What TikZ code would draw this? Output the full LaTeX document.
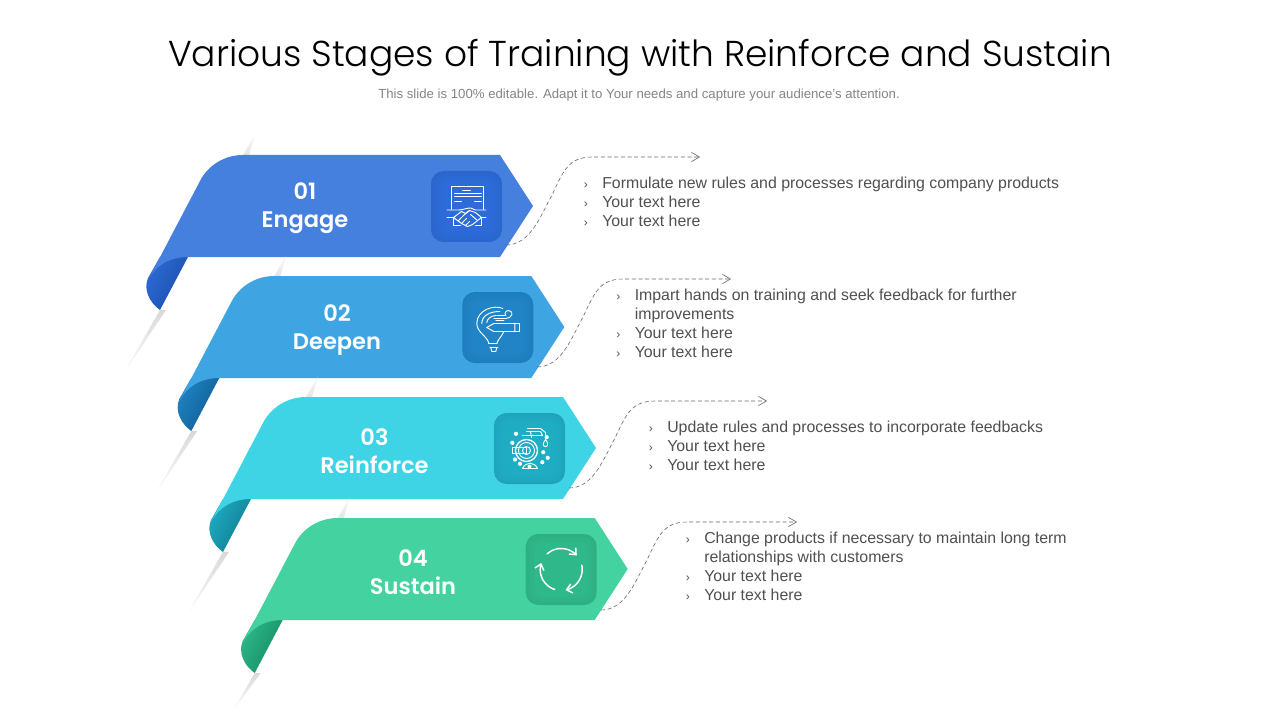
\documentclass[tikz,border=0pt]{standalone}
\usepackage{fontspec}
\setmainfont{Liberation Sans}
\newfontfamily\titlefont{Poppins Light}
\newfontfamily\bandfont{Poppins SemiBold}
\usetikzlibrary{arrows.meta,calc,fadings}
\definecolor{cA}{HTML}{4580DE}\definecolor{cAd}{HTML}{2C6BD8}\definecolor{cAe}{HTML}{1B4FA8}
\definecolor{cB}{HTML}{3FA5E2}\definecolor{cBd}{HTML}{2084C6}\definecolor{cBe}{HTML}{0F5C8F}
\definecolor{cC}{HTML}{3ED4E6}\definecolor{cCd}{HTML}{1FADC4}\definecolor{cCe}{HTML}{0F7A8F}
\definecolor{cD}{HTML}{43D2A0}\definecolor{cDd}{HTML}{2FB98A}\definecolor{cDe}{HTML}{148A62}
\definecolor{txt}{HTML}{505050}
\tikzset{
  x=0.75pt,y=-0.75pt,
  conn/.style={densely dashed,line width=0.45pt,draw=black!60,-{Straight Barb[length=6pt,width=7pt,line width=0.45pt]}},
  itxt/.style={anchor=base west,inner sep=0pt,font=\fontsize{11.9pt}{14pt}\selectfont,text=txt},
  bul/.style={anchor=base west,inner sep=0pt,font=\fontsize{9pt}{11pt}\selectfont,text=txt},
  bandtxt/.style={align=center,text=white,inner sep=0pt,font=\bandfont\fontsize{16.9pt}{21pt}\selectfont},
  ic/.style={draw=white,line width=0.7pt,line join=round,line cap=round},
}
% #1 x-offset, #2 y-offset, #3 band, #4 box colour, #5 edge colour, #6 name, #7 streak length
\newcommand{\bandshape}[7]{%
  \begin{scope}[shift={(#1,#2)}]
    \fill[black!15,path fading=south] (160,310) -- (166,310) -- ($(160,310)!#7!(122,376)$) -- cycle;
    \fill[black!10,path fading=north] (243,155) -- (249,155) -- (256,132) -- cycle;
    \path[left color=#4,middle color=#4,right color=#5,shading angle=62] (188,257) -- (160,310) .. controls (150,303) and (143,290) .. (148,278) -- (160,257) -- cycle;
    \fill[#3] (500,155) -- (533,206) -- (500,257) -- (188,257) .. controls (170,257) and (156,265) .. (148,280) -- (200,181) .. controls (208,165) and (225,155) .. (243,155) -- cycle;
    \foreach \i/\m in {0/95,1/95.5,2/96,3/96.5,4/97,5/97.5,6/98,7/98.5,8/99,9/99.3,10/99.6,11/100}{
      \fill[#4!\m!black,rounded corners={9.5pt-0.4pt*\i}] ({431+\i},{171+\i}) rectangle ({502-\i},{242-\i});
    }
    \coordinate (#6i) at (466.5,206.5);
  \end{scope}}
\newcommand{\connect}[2]{%
  \coordinate (k#1) at ($(#1)+(86,0)$);
  \draw[conn] (#1) .. controls ($(#1)+(24,0)$) and ($(#1)+(34,-28)$) .. ($(#1)+(46,-50)$) .. controls ($(#1)+(57,-73)$) and ($(k#1 |- #2)+(-24,0)$) .. (k#1 |- #2) -- (#2);}
\begin{document}
\begin{tikzpicture}
\useasboundingbox (0,0) rectangle (1280,720);
\fill[white] (0,0) rectangle (1280,720);
\node[inner sep=0pt,font=\titlefont\fontsize{27pt}{34pt}\selectfont] (title) at (640,57.5) {Various Stages of Training with Reinforce and Sustain};
\node[inner sep=0pt,font=\fontsize{9.9pt}{11pt}\selectfont,text=black!48] (sub) at (639,95) {This slide is 100\% editable. Adapt it to Your needs and capture your audience’s attention.};

\bandshape{0}{0}{cA}{cAd}{cAe}{a}{1}
\bandshape{31.3}{121}{cB}{cBd}{cBe}{b}{1}
\bandshape{63}{242}{cC}{cCd}{cCe}{c}{1}
\bandshape{94.7}{363}{cD}{cDd}{cDe}{d}{.58}

\node[bandtxt] (t1) at (305,208.5) {01\\Engage};
\node[bandtxt] (t2) at (337,330.5) {02\\Deepen};
\node[bandtxt] (t3) at (374.5,451) {03\\Reinforce};
\node[bandtxt] (t4) at (413,572.5) {04\\Sustain};

% connectors
\coordinate (as) at (506,245);
\coordinate (bs) at (537,367);
\coordinate (cs) at (569,488);
\coordinate (ds) at (601,610);
\coordinate (ae) at (700,157);
\coordinate (be) at (731,279);
\coordinate (ce) at (767,401);
\coordinate (de) at (797,522);
\connect{as}{ae}
\connect{bs}{be}
\connect{cs}{ce}
\connect{ds}{de}

% texts
\newcommand{\bl}[3]{\node[bul] at (#1,#2) {›}; \node[itxt] at ($(#1,#2)+(18.5,0)$) {#3};}
\bl{583.5}{188.5}{Formulate new rules and processes regarding company products}
\bl{583.5}{207.5}{Your text here}
\bl{583.5}{226.5}{Your text here}
\bl{616}{300.5}{Impart hands on training and seek feedback for further}
\node[itxt] at (634.5,319.5) {improvements};
\bl{616}{338.5}{Your text here}
\bl{616}{357.5}{Your text here}
\bl{648.5}{432.5}{Update rules and processes to incorporate feedbacks}
\bl{648.5}{451.5}{Your text here}
\bl{648.5}{470.5}{Your text here}
\bl{685.5}{543.5}{Change products if necessary to maintain long term}
\node[itxt] at (704,562.5) {relationships with customers};
\bl{685.5}{581.5}{Your text here}
\bl{685.5}{600.5}{Your text here}

% icon 1: agreement and handshake
\begin{scope}[shift={(ai)}]
  \draw[ic] (-15,3) -- (-15,-20.5) -- (17,-20.5) -- (17,3);
  \draw[ic] (-4,-16.5) -- (4,-16.5);
  \draw[ic] (-12,-13) -- (15,-13) (-12,-10) -- (15,-10);
  \draw[ic] (-12,-5) -- (-5,-5) (8,-5) -- (15,-5);
  \draw[ic] (-19.5,3.5) -- (-8,3.5) .. controls (-3,3.5) and (-1,1.5) .. (4,1.5) -- (9,3.5) -- (19.5,3.5);
  \draw[ic] (-19.5,11) -- (-13,11) -- (-13,19) -- (-6,19) (19.5,11) -- (15,11) -- (15,19) -- (9,19);
  \draw[ic] (-13,11) -- (-5,5) -- (-1,7) -- (3,4) -- (9,6) -- (15,11) -- (6,18) -- (1,20) -- (-5,17) -- cycle;
  \draw[ic] (-8,14) -- (-3,9) (-5,17) -- (0,12) (-1,19) -- (3,15) (3,4) -- (-3,9) (4,8) -- (11,14);
\end{scope}
% icon 2: bulb with pencil
\begin{scope}[shift={(bi)}]
  \draw[ic] (5,-19) .. controls (-3,-23) and (-21,-18) .. (-21,-4) .. controls (-21,5) and (-10,9) .. (-9,16);
  \draw[ic] (-16,-4) .. controls (-16,-12) and (-8,-16) .. (2,-16);
  \draw[ic] (-11,-5) .. controls (-11,-8) and (-7,-12) .. (-2,-12);
  \draw[ic] (-11,0) -- (-4,-4) -- (17,-4) -- (17,4) -- (-4,4) -- cycle;
  \draw[ic] (17,-4) -- (22,-4) -- (22,4) -- (17,4);
  \draw[ic] (-4,-9) -- (8,-9) (-2,-7) -- (6,-7) (-1,-12) -- (7,-12);
  \draw[ic] (8,-9) .. controls (14,-9) and (17,-16) .. (11,-17) .. controls (8,-17) and (6,-14) .. (8,-12);
  \draw[ic] (6,4) .. controls (4,9) and (0,12) .. (-1,16);
  \draw[ic] (-9,16) -- (-1,16) (-8,20) -- (0,20) (-7,20) -- (-6,24) -- (-2,24) -- (-1,20);
\end{scope}
% icon 3: target and gears
\begin{scope}[shift={(ci)}]
  \draw[ic] (-3,2) circle[radius=4];
  \draw[ic] (-3,2) circle[radius=8];
  \draw[ic,line width=1pt] (-3,2) circle[radius=11];
  \draw[ic] (-17,-1) -- (-3,-1) -- (-3,5) -- (-17,5) -- cycle;
  \draw[ic] (-7,-13) -- (13,-13) (-3,-17) -- (11,-17) -- (13,-13) (1,-17) -- (2,-11) (-2,-20) -- (11,-20) -- (16,-16) -- (16,-11);
  \draw[ic] (16,-9) .. controls (13,-5) and (13,-2) .. (16,-2) .. controls (19,-2) and (19,-5) .. (16,-9);
  \draw[ic] (-7,20) .. controls (-4,13) and (5,13) .. (8,20) -- cycle;
  \fill[white] (0,18) circle[radius=2];
  \foreach \p/\r in {-13.5/-14.7,-17.2/-5.7,-14.5/11,-9.5/15.3,17.2/-11.3,13.8/3.7,18.2/9.3,12.8/13.7}{
    \fill[white] (\p,\r) circle[radius=2.1];
  }
\end{scope}
% icon 4: cycle arrows
\begin{scope}[shift={(di)}]
  \foreach \a in {-132,-12,108}{
    \draw[draw=white,line width=1.1pt,line cap=round,-{Straight Barb[length=4pt,width=7pt,line width=1.1pt]}]
      plot[domain=\a:\a+90,samples=16,smooth] ({21*cos(\x)},{21*sin(\x)});
  }
\end{scope}
\end{tikzpicture}
\end{document}
